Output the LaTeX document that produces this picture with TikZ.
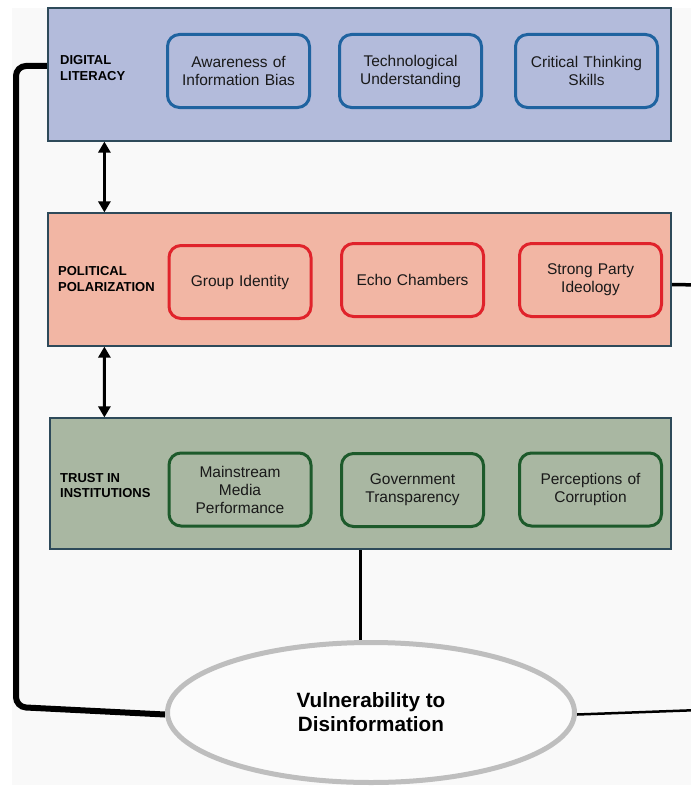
\documentclass[tikz,border=0pt]{standalone}
\usepackage{fontspec}
\setmainfont{Liberation Sans}
\usetikzlibrary{arrows.meta,shapes.geometric,calc}
\pgfdeclarelayer{bg}
\pgfsetlayers{bg,main}
\definecolor{bggray}{HTML}{F9F9F9}
\definecolor{secborder}{HTML}{2E4A5A}
\definecolor{dlfill}{HTML}{B3BBDB}
\definecolor{dlborder}{HTML}{1F63A0}
\definecolor{ppfill}{HTML}{F2B6A4}
\definecolor{ppborder}{HTML}{E0232B}
\definecolor{tifill}{HTML}{A9B7A2}
\definecolor{tiborder}{HTML}{1D5A2B}
\definecolor{ellgray}{HTML}{BEBEBE}
\tikzset{
  section/.style={draw=secborder, line width=1.2bp, rectangle, inner sep=0pt,
    minimum width=623bp, minimum height=133bp},
  seclabel/.style={anchor=west, align=left, inner sep=0pt,
    font=\fontsize{13bp}{15.5bp}\selectfont\bfseries},
  factor/.style={draw, line width=3bp, rounded corners=12bp, rectangle,
    minimum width=142bp, minimum height=73bp, text width=134bp, align=center,
    inner sep=0pt, font=\fontsize{15.5bp}{18bp}\selectfont, text=black!90},
  dlfactor/.style={factor, draw=dlborder, fill=dlfill},
  ppfactor/.style={factor, draw=ppborder, fill=ppfill},
  tifactor/.style={factor, draw=tiborder, fill=tifill},
  dblarrow/.style={line width=3.2bp, {Triangle[width=12bp,length=11bp]}-{Triangle[width=12bp,length=11bp]}},
}
\begin{document}
\begin{tikzpicture}[x=1bp,y=-1bp]
\useasboundingbox (0,0) rectangle (691,787);
\begin{pgfonlayer}{bg}
\fill[bggray] (12,8) rectangle (691,785);
\end{pgfonlayer}

\node[ellipse, draw=ellgray, line width=5bp, fill=bggray!60!white,
  minimum width=407bp, minimum height=140bp, inner sep=0pt, align=center,
  font=\fontsize{20.7bp}{24bp}\selectfont\bfseries] (V) at (371,712.5)
  {Vulnerability to\\Disinformation};

% sections
\node[section, fill=dlfill] (D) at (359.5,74.5) {};
\node[section, fill=ppfill] (P) at (359.5,279.5) {};
\node[section, fill=tifill, minimum width=621bp, minimum height=131bp] (T) at (360.5,483.5) {};

\node[seclabel] (DL) at (60,68) {DIGITAL\\LITERACY};
\node[seclabel] (PL) at (58,279) {POLITICAL\\POLARIZATION};
\node[seclabel] (TL) at (60,485.5) {TRUST IN\\INSTITUTIONS};

\node[dlfactor] (D1) at (238.5,71) {Awareness of\\Information Bias};
\node[dlfactor] (D2) at (410.5,71) {Technological\\Understanding};
\node[dlfactor] (D3) at (586.5,71) {Critical Thinking\\Skills};

\node[ppfactor] (P1) at (240,282) {Group Identity};
\node[ppfactor] (P2) at (412.5,280) {Echo Chambers};
\node[ppfactor] (P3) at (590.5,280) {Strong Party\\Ideology};

\node[tifactor] (T1) at (240,489.5) {Mainstream\\Media\\Performance};
\node[tifactor] (T2) at (412.5,490) {Government\\Transparency};
\node[tifactor] (T3) at (590.5,489.5) {Perceptions of\\Corruption};

% arrows between sections
\draw[dblarrow] ([xshift=57bp]D.south west) -- ([xshift=57bp]P.north west);
\draw[dblarrow] ([xshift=57bp]P.south west) -- ([xshift=55bp]T.north west);

\begin{pgfonlayer}{bg}
% trust to vulnerability
\draw[line width=3.5bp] (T.south) -- (T.south |- V.north);
% left loop from digital literacy to vulnerability
\coordinate (L1) at (16,66);
\coordinate (L2) at (16,707);
\draw[line width=6bp, rounded corners=10bp] ([yshift=8.5bp]D.west) -- (L1) -- (L2) -- ([yshift=-2bp]V.west);
% right connectors leaving the picture
\coordinate (R1) at (700,285);
\coordinate (R2) at (700,710);
\draw[line width=3.5bp] ([yshift=-5bp]P.east) -- (R1);
\draw[line width=2.5bp] ([yshift=-2bp]V.east) -- (R2);
\end{pgfonlayer}
\end{tikzpicture}
\end{document}
